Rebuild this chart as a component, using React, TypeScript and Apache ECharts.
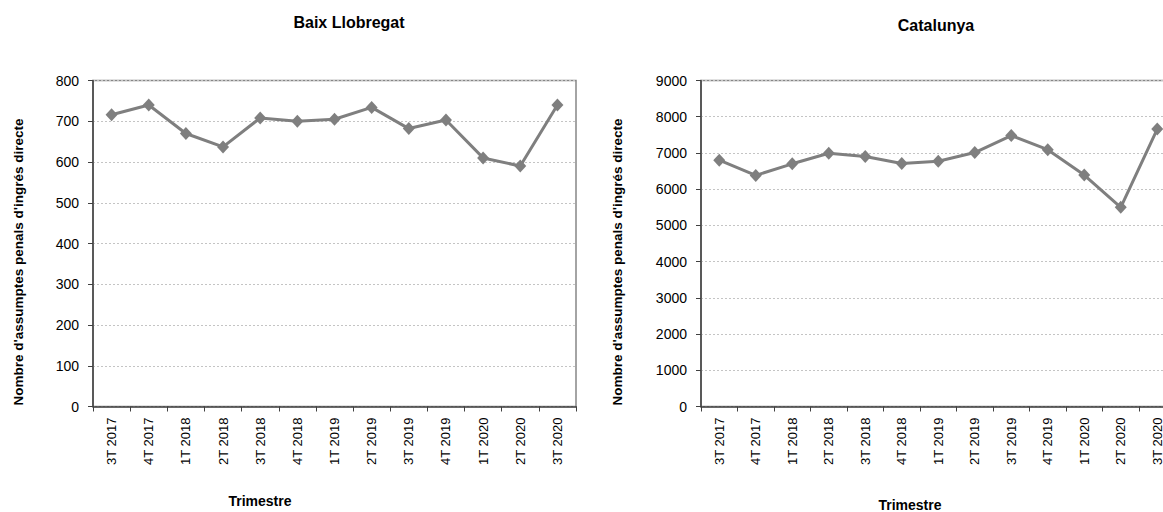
import React, { useEffect, useRef } from "react";
import * as echarts from "echarts";

const categories = [
  "3T 2017", "4T 2017", "1T 2018", "2T 2018", "3T 2018", "4T 2018", "1T 2019",
  "2T 2019", "3T 2019", "4T 2019", "1T 2020", "2T 2020", "3T 2020",
];
const baixValues = [716, 740, 670, 637, 708, 700, 705, 734, 682, 703, 610, 590, 740];
const catValues = [6800, 6380, 6700, 6990, 6900, 6710, 6770, 7010, 7480, 7090, 6390, 5500, 7660];

const leftTitle = "Baix Llobregat";
const rightTitle = "Catalunya";
const yName = "Nombre d'assumptes penals d'ingrés directe";
const xName = "Trimestre";

const FONT = "'Liberation Sans', Arial, sans-serif";
const LINE = "#7f7f7f";

export default function App() {
  const ref = useRef<HTMLDivElement>(null);
  useEffect(() => {
    if (!ref.current) return;
    const chart = echarts.init(ref.current, null, { renderer: "svg" });
    const xAxisBase = (gridIndex: number) => ({
      type: "category",
      gridIndex,
      data: categories,
      boundaryGap: true,
      axisLine: { show: true, lineStyle: { color: "#404040", width: 1.5 } },
      axisTick: { show: true, inside: false, length: 5, alignWithLabel: false, lineStyle: { color: "#404040" } },
      axisLabel: { rotate: 90, margin: 11, fontSize: 13, color: "#000", fontFamily: FONT, interval: 0 },
      splitLine: { show: false },
    });
    const yAxisBase = (gridIndex: number, max: number, interval: number) => ({
      type: "value",
      gridIndex,
      min: 0,
      max,
      interval,
      axisLine: { show: true, lineStyle: { color: "#404040", width: 1.5 } },
      axisTick: { show: true, inside: false, length: 5, lineStyle: { color: "#404040" } },
      axisLabel: { margin: 14, fontSize: 14, color: "#000", fontFamily: FONT, formatter: (v: number) => String(v) },
      splitLine: { show: true, lineStyle: { color: "#c4c4c4", type: [2, 2], width: 1 } },
    });
    const seriesBase = (idx: number, data: number[]) => ({
      type: "line",
      xAxisIndex: idx,
      yAxisIndex: idx,
      data,
      symbol: "diamond",
      symbolSize: [12, 13],
      lineStyle: { color: LINE, width: 3 },
      itemStyle: { color: LINE },
      silent: true,
    });
    const text = (t: string, x: number, y: number, size: number, rotation = 0) => ({
      type: "text",
      x,
      y,
      rotation,
      style: {
        text: t,
        fontSize: size,
        fontWeight: "bold",
        fontFamily: FONT,
        fill: "#000",
        align: "center",
        verticalAlign: "middle",
      },
    });
    chart.setOption({
      animation: false,
      backgroundColor: "#fff",
      grid: [
        { left: 93, top: 80.5, width: 483, height: 326, show: true, borderColor: "#868686", borderWidth: 1.5, backgroundColor: "transparent" },
        { left: 701, top: 80.5, width: 474.5, height: 326, show: true, borderColor: "#868686", borderWidth: 1.5, backgroundColor: "transparent" },
      ],
      xAxis: [xAxisBase(0), xAxisBase(1)],
      yAxis: [yAxisBase(0, 800, 100), yAxisBase(1, 9000, 1000)],
      series: [seriesBase(0, baixValues), seriesBase(1, catValues)],
      graphic: [
        text(leftTitle, 349, 22, 16),
        text(rightTitle, 936, 25, 16),
        text(yName, 18, 262, 13.5, Math.PI / 2),
        text(yName, 617, 262, 13.5, Math.PI / 2),
        text(xName, 260, 500.5, 14),
        text(xName, 910, 505, 14),
      ],
    });
    return () => chart.dispose();
  }, []);
  return (
    <div
      ref={ref}
      style={{ position: "fixed", left: 0, top: 0, width: 1185, height: 512, background: "#fff" }}
    />
  );
}
